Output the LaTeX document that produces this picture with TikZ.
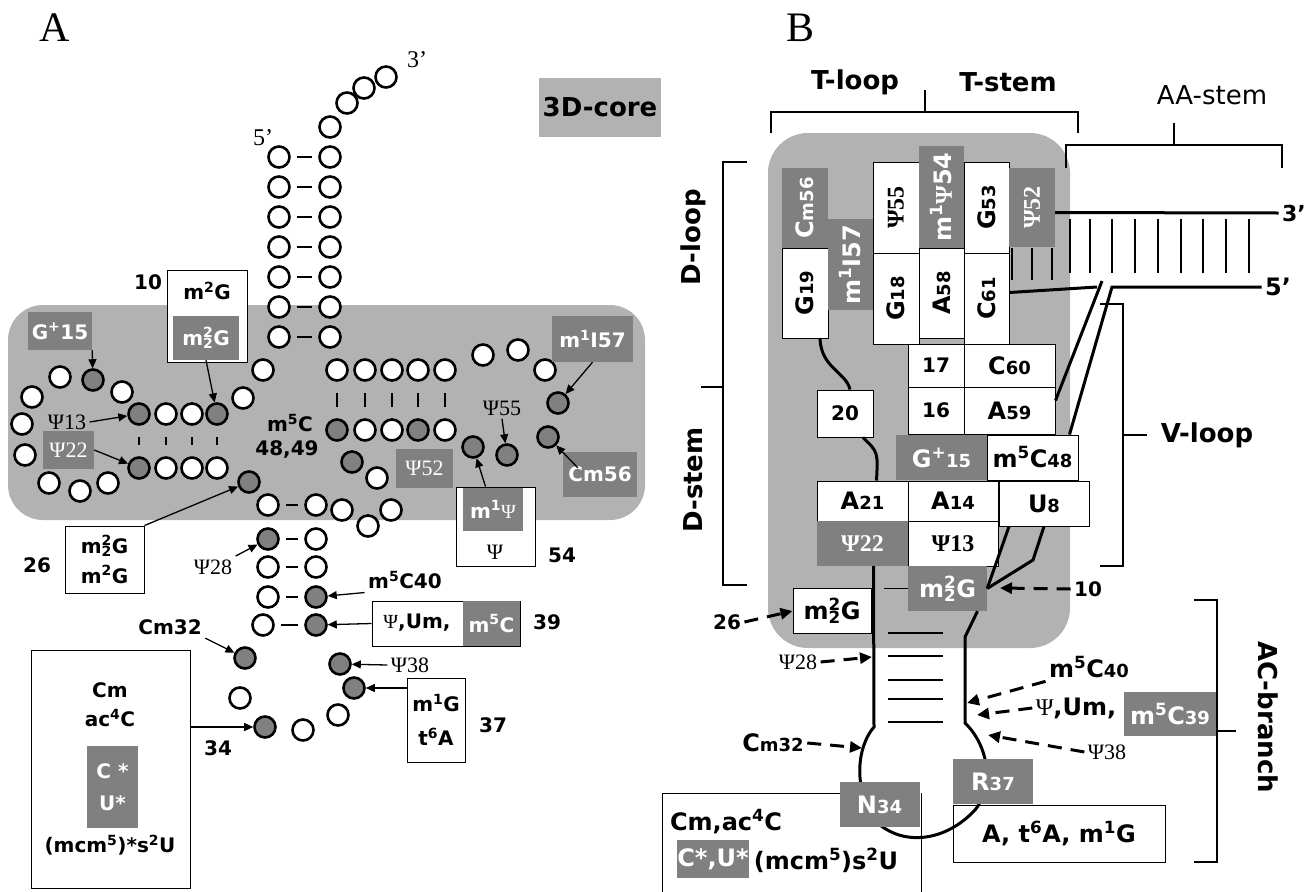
\documentclass[tikz,border=0pt]{standalone}
\usepackage{fontspec}
\setmainfont{DejaVu Sans}
\newfontfamily\psifont{Liberation Serif}
\usetikzlibrary{arrows.meta,positioning}
\definecolor{coregray}{gray}{0.70}
\definecolor{modgray}{gray}{0.50}
\newcommand{\PS}{{\psifont\mdseries Ψ}}
\newcommand{\sm}[1]{{\fontsize{18}{18}\selectfont #1}}
\newcommand{\mmG}{m\rlap{\textsuperscript{2}}\textsubscript{2}G}
\tikzset{
	nt/.style={circle, draw, line width=2.6pt, minimum size=21pt, inner sep=0pt, fill=white}, % one nucleotide
	mnt/.style={nt, fill=modgray}, % modified nucleotide
	bp/.style={line width=2.6pt, shorten <=6pt, shorten >=6pt}, % base pair, horizontal
	vbp/.style={line width=2.4pt, shorten <=11pt, shorten >=11pt}, % base pair, vertical
	arr/.style={-{Triangle[length=9pt,width=8pt]}, line width=1.3pt},
	darr/.style={-{Triangle[length=12pt,width=11pt]}, line width=3pt, dash pattern=on 14pt off 9pt},
	modbox/.style={fill=modgray, text=white, inner sep=0pt},
	plainbox/.style={draw, fill=white, line width=1pt, inner sep=0pt},
	psilab/.style={font=\psifont\mdseries\fontsize{22}{24}\selectfont},
	bpsilab/.style={font=\psifont\bfseries\fontsize{24}{26}\selectfont},
	blab/.style={font=\bfseries\fontsize{24}{26}\selectfont},
	seclab/.style={font=\bfseries\fontsize{26}{28}\selectfont},
	brace/.style={line width=1.2pt},
	strand/.style={line width=3pt},
}
\begin{document}
\begin{tikzpicture}[x=1pt, y=-1pt, font=\bfseries\fontsize{20}{24}\selectfont]
	\useasboundingbox (0,0) rectangle (1310,892);
	
	% ---------------- A ----------------
	\node[font=\psifont\mdseries\fontsize{42}{44}\selectfont] (pA) at (55,28) {A};
	\fill[coregray, rounded corners=35pt] (8,305) rectangle (645,520);
	\node[fill=coregray, minimum width=116pt, minimum height=59pt, font=\bfseries\fontsize{26}{28}\selectfont] (core) at (600,107.5) {3D-core};
	
	% acceptor stem
	\node[nt] (c1) at (279,157) {};
	\node[nt] (c2) at (279,187) {};
	\node[nt] (c3) at (279,217) {};
	\node[nt] (c4) at (279,247) {};
	\node[nt] (c5) at (279,277) {};
	\node[nt] (c6) at (279,307) {};
	\node[nt] (c7) at (279,337) {};
	\node[nt] (c8) at (263,370) {};
	\node[nt] (c9) at (243,398) {};
	% D-arm
	\node[mnt] (c10) at (217,414) {};
	\node[nt] (c11) at (192,414) {};
	\node[nt] (c12) at (166,414) {};
	\node[mnt] (c13) at (139,414) {};
	\node[nt] (c14) at (122,392) {};
	\node[mnt] (c15) at (93,380) {};
	\node[nt] (c16) at (60,377) {};
	\node[nt] (c17) at (32,397) {};
	\node[nt] (c18) at (22,424) {};
	\node[nt] (c19) at (25,455) {};
	\node[nt] (c20) at (49,483) {};
	\node[nt] (c20a) at (80,491) {};
	\node[nt] (c21) at (108,483) {};
	\node[mnt] (c22) at (139,468) {};
	\node[nt] (c23) at (166,468) {};
	\node[nt] (c24) at (192,468) {};
	\node[nt] (c25) at (217,468) {};
	\node[mnt] (c26) at (249,482) {};
	% anticodon arm
	\node[nt] (c27) at (268,505) {};
	\node[mnt] (c28) at (268,539) {};
	\node[nt] (c29) at (268,567) {};
	\node[nt] (c30) at (268,597) {};
	\node[nt] (c31) at (263,625) {};
	\node[mnt] (c32) at (245,658) {};
	\node[nt] (c33) at (240,698) {};
	\node[mnt] (c34) at (265,727) {};
	\node[nt] (c35) at (303,730) {};
	\node[nt] (c36) at (338,715) {};
	\node[mnt] (c37) at (354,688) {};
	\node[mnt] (c38) at (340,664) {};
	\node[mnt] (c39) at (316,625) {};
	\node[mnt] (c40) at (316,597) {};
	\node[nt] (c41) at (316,567) {};
	\node[nt] (c42) at (316,539) {};
	\node[nt] (c43) at (316,505) {};
	% variable loop
	\node[nt] (c44) at (342,510) {};
	\node[nt] (c45) at (368,526) {};
	\node[nt] (c46) at (391,510) {};
	\node[nt] (c47) at (377,478) {};
	\node[mnt] (c48) at (352,462) {};
	% T-arm
	\node[mnt] (c49) at (337,430) {};
	\node[nt] (c50) at (365,430) {};
	\node[nt] (c51) at (392,430) {};
	\node[mnt] (c52) at (418,430) {};
	\node[nt] (c53) at (445,430) {};
	\node[mnt] (c54) at (473,447) {};
	\node[mnt] (c55) at (507,455) {};
	\node[mnt] (c56) at (548,437) {};
	\node[mnt] (c57) at (558,403) {};
	\node[nt] (c58) at (545,370) {};
	\node[nt] (c59) at (518,350) {};
	\node[nt] (c60) at (483,355) {};
	\node[nt] (c61) at (445,370) {};
	\node[nt] (c62) at (418,370) {};
	\node[nt] (c63) at (392,370) {};
	\node[nt] (c64) at (365,370) {};
	\node[nt] (c65) at (337,370) {};
	% acceptor 3' strand
	\node[nt] (c66) at (330,337) {};
	\node[nt] (c67) at (330,307) {};
	\node[nt] (c68) at (330,277) {};
	\node[nt] (c69) at (330,247) {};
	\node[nt] (c70) at (330,217) {};
	\node[nt] (c71) at (330,187) {};
	\node[nt] (c72) at (330,157) {};
	\node[nt] (c73) at (330,127) {};
	\node[nt] (c74) at (347,103) {};
	\node[nt] (c75) at (364,88) {};
	\node[nt] (c76) at (386,77) {};
	\node[font=\psifont\mdseries\fontsize{24}{26}\selectfont] (p5) at (263,138) {5’};
	\node[font=\psifont\mdseries\fontsize{24}{26}\selectfont] (p3) at (417,60) {3’};
	
	\draw (c1) edge[bp] (c72) (c2) edge[bp] (c71) (c3) edge[bp] (c70) (c4) edge[bp] (c69)
		(c5) edge[bp] (c68) (c6) edge[bp] (c67) (c7) edge[bp] (c66)
		(c27) edge[bp] (c43) (c28) edge[bp] (c42) (c29) edge[bp] (c41) (c30) edge[bp] (c40) (c31) edge[bp] (c39);
	\draw (c10) edge[vbp] (c25) (c11) edge[vbp] (c24) (c12) edge[vbp] (c23) (c13) edge[vbp] (c22)
		(c49) edge[vbp] (c65) (c50) edge[vbp] (c64) (c51) edge[vbp] (c63) (c52) edge[vbp] (c62) (c53) edge[vbp] (c61);
	
	% modification labels of A
	\node[modbox, minimum width=64pt, minimum height=38pt] (g15a) at (60,331) {G\textsuperscript{+}15};
	\node[psilab] (psi13a) at (67,422) {Ψ13};
	\node[modbox, psilab, minimum width=51pt, minimum height=38pt] (psi22a) at (68.5,450) {Ψ22};
	\node[plainbox, minimum width=80pt, minimum height=92pt] (b10) at (207,316) {};
	\node (m2ga) at (207,291) {m\textsuperscript{2}G};
	\node[modbox, minimum width=66pt, minimum height=44pt] (m22ga) at (206,338) {\mmG};
	\node (n10) at (148,282) {10};
	\node (m5ca) at (290,423) {m\textsuperscript{5}C};
	\node (n4849) at (287,449) {48,49};
	\node[modbox, psilab, minimum width=57pt, minimum height=39pt] (psi52a) at (424.5,468.5) {Ψ52};
	\node[modbox, minimum width=81pt, minimum height=46pt] (m1i57a) at (592.5,339) {m\textsuperscript{1}I57};
	\node[modbox, minimum width=74pt, minimum height=45pt] (cm56a) at (600,474.5) {Cm56};
	\node[psilab] (psi55a) at (502,408) {Ψ55};
	\node[plainbox, minimum width=79pt, minimum height=79pt] (b54) at (495.5,526.5) {};
	\node[modbox, minimum width=60pt, minimum height=43pt] (m1psia) at (493,509.5) {m\textsuperscript{1}\PS};
	\node[psilab] (psia) at (495,552) {Ψ};
	\node (n54) at (562,555) {54};
	\node[plainbox, minimum width=79pt, minimum height=67pt, align=center, font=\bfseries\fontsize{20}{30}\selectfont] (b26) at (104.5,559.5) {\mmG\\m\textsuperscript{2}G};
	\node (n26) at (37,565) {26};
	\node[psilab] (psi28a) at (213,567) {Ψ28};
	\node (m5c40a) at (405,580) {m\textsuperscript{5}C40};
	\node[plainbox, minimum width=148pt, minimum height=45pt] (b39) at (446,623.5) {};
	\node (umA) at (417,623) {\PS,Um,};
	\node[modbox, minimum width=57pt, minimum height=45pt] (m5c39a) at (491.5,623.5) {m\textsuperscript{5}C};
	\node (n39) at (547,622) {39};
	\node[psilab] (psi38a) at (410,665) {Ψ38};
	\node[plainbox, minimum width=58pt, minimum height=84pt, align=center, font=\bfseries\fontsize{20}{34}\selectfont] (b37) at (436,720) {m\textsuperscript{1}G\\t\textsuperscript{6}A};
	\node (n37) at (493,725) {37};
	\node (cm32a) at (170,627) {Cm32};
	\node[plainbox, minimum width=159pt, minimum height=238pt] (b34) at (110.5,769) {};
	\node (cma) at (110,690) {Cm};
	\node (ac4ca) at (110,718) {ac\textsuperscript{4}C};
	\node[modbox, minimum width=51pt, minimum height=82pt, align=center, font=\bfseries\fontsize{20}{32}\selectfont] (cua) at (112.5,787) {C *\\U*};
	\node (mcma) at (110,845) {(mcm\textsuperscript{5})*s\textsuperscript{2}U};
	\node (n34) at (218,748) {34};
	
	\draw[arr] (g15a.south east) -- (c15);
	\draw[arr] (psi13a.east) -- (c13);
	\draw[arr] (psi22a.east) -- (c22);
	\draw[arr] (m22ga.south) -- (c10);
	\draw[arr] (b26.north east) -- (c26);
	\draw[arr] (psi28a.north east) -- (c28);
	\draw[arr] (cm32a.south east) -- (c32);
	\draw[arr] (b34.east |- c34) -- (c34);
	\draw[arr] (m5c40a.south west) -- (c40);
	\draw[arr] (b39.west) -- (c39);
	\draw[arr] (psi38a.west) -- (c38);
	\draw[arr] (b37.west |- c37) -- (c37);
	\draw[arr] ([xshift=-10pt]b54.north) -- (c54);
	\draw[arr] (psi55a.south) -- (c55);
	\draw[arr] (m1i57a.south) -- (c57);
	\draw[arr] ([shift={(15pt,-16pt)}]cm56a.north west) -- (c56);
	
	% ---------------- B ----------------
	\node[font=\psifont\mdseries\fontsize{42}{44}\selectfont] (pB) at (800,28) {B};
	\fill[coregray, rounded corners=40pt] (768,133) rectangle (1070,648);
	
	% brackets
	\draw[brace] (771,133) -- (771,112) -- (1078,112) -- (1078,133) (925,90) -- (925,112);
	\draw[brace] (1066,168) -- (1066,145) -- (1282,145) -- (1282,168) (1174,123) -- (1174,145);
	\draw[brace] (747,162) -- (723,162) -- (723,585) -- (747,585) (701,387) -- (723,387);
	\draw[brace] (1100,304) -- (1123,304) -- (1123,566) -- (1100,566) (1123,435) -- (1147,435);
	\draw[brace] (1194,600) -- (1217,600) -- (1217,862) -- (1194,862) (1217,731) -- (1236,731);
	\node[seclab] (tloop) at (855,82) {T-loop};
	\node[seclab] (tstem) at (1008,82) {T-stem};
	\node[font=\mdseries\fontsize{26}{28}\selectfont] (aastem) at (1212,95) {AA-stem};
	\node[seclab, rotate=90] (dloop) at (693,237) {D-loop};
	\node[seclab, rotate=90] (dstem) at (693,480) {D-stem};
	\node[seclab] (vloop) at (1207,435) {V-loop};
	\node[seclab, rotate=-90] (acbr) at (1268,717) {AC-branch};
	
	% acceptor stem ticks
	\foreach \x in {1070,1090,1112,1135,1158,1181,1203,1226,1249}
		\draw[line width=1.6pt] (\x,219) -- (\x,273);
	\foreach \x in {1012,1032,1052}
		\draw[line width=1.6pt] (\x,248) -- (\x,280);
	% anticodon stem ticks
	\foreach \y in {633,656,680,699,722}
		\draw[line width=1.6pt] (888,\y) -- (943,\y);
	
	% white boxes under the strand
	\node[plainbox, minimum width=212pt, minimum height=57pt, blab] (bAtA) at (1059,833.5) {A, t\textsuperscript{6}A, m\textsuperscript{1}G};
	\draw[line width=1pt] (662,895) -- (662,793) -- (840,793);
	\draw[line width=1pt] (921,793) -- (921,895);
	\node[blab] (cmac) at (726,822) {Cm,ac\textsuperscript{4}C};
	\node[modbox, blab, minimum width=68pt, minimum height=38pt] (cub) at (713,859) {C*,U*};
	\node[blab] (mcmb) at (826,860) {(mcm\textsuperscript{5})s\textsuperscript{2}U};
	
	% boxes of B
	\node[modbox, blab, rotate=90, minimum width=80pt, minimum height=46pt] (bCm56) at (805,208) {C\sm{m56}};
	\node[plainbox, blab, rotate=90, minimum width=90pt, minimum height=46pt] (bG19) at (805,293) {G\sm{19}};
	\node[modbox, blab, rotate=90, minimum width=91pt, minimum height=45pt] (bI57) at (850.5,264.5) {m\textsuperscript{1}I57};
	\node[plainbox, bpsilab, rotate=90, minimum width=91pt, minimum height=46pt] (bP55) at (896,207.5) {Ψ55};
	\node[plainbox, blab, rotate=90, minimum width=91pt, minimum height=46pt] (bG18) at (896,298.5) {G\sm{18}};
	\node[modbox, blab, rotate=90, minimum width=102pt, minimum height=45pt] (bP54) at (941.5,197) {m\textsuperscript{1}{\psifont Ψ}54};
	\node[plainbox, blab, rotate=90, minimum width=90pt, minimum height=45pt] (bA58) at (941.5,293) {A\sm{58}};
	\node[plainbox, blab, rotate=90, minimum width=91pt, minimum height=45pt] (bG53) at (986.5,207.5) {G\sm{53}};
	\node[plainbox, blab, rotate=90, minimum width=91pt, minimum height=45pt] (bC61) at (986.5,298.5) {C\sm{61}};
	\node[modbox, bpsilab, rotate=90, minimum width=79pt, minimum height=46pt] (bP52) at (1032,207.5) {Ψ52};
	\node[plainbox, minimum width=56pt, minimum height=43pt] (b17) at (936,365.5) {17};
	\node[plainbox, blab, minimum width=91pt, minimum height=43pt] (bC60) at (1009.5,365.5) {C\sm{60}};
	\node[plainbox, minimum width=56pt, minimum height=47pt] (b16) at (936,410.5) {16};
	\node[plainbox, blab, minimum width=91pt, minimum height=47pt] (bA59) at (1009.5,410.5) {A\sm{59}};
	\node[plainbox, minimum width=56pt, minimum height=47pt] (b20) at (845,413.5) {20};
	\node[modbox, blab, minimum width=91pt, minimum height=45pt] (bG15) at (941.5,457.5) {G\textsuperscript{+}\sm{15}};
	\node[plainbox, blab, minimum width=91pt, minimum height=45pt] (bC48) at (1032.5,457.5) {m\textsuperscript{5}C\sm{48}};
	\node[plainbox, blab, minimum width=91pt, minimum height=40pt] (bA21) at (862.5,501) {A\sm{21}};
	\node[plainbox, blab, minimum width=90pt, minimum height=40pt] (bA14) at (953,501) {A\sm{14}};
	\node[plainbox, blab, minimum width=90pt, minimum height=45pt] (bU8) at (1044,503.5) {U\sm{8}};
	\node[modbox, bpsilab, minimum width=91pt, minimum height=45pt] (bP22) at (862.5,543.5) {Ψ22};
	\node[plainbox, bpsilab, minimum width=90pt, minimum height=45pt] (bP13) at (953,543.5) {Ψ13};
	\node[modbox, blab, minimum width=79pt, minimum height=45pt] (bG10) at (947.5,588.5) {\mmG};
	\node[plainbox, blab, minimum width=78pt, minimum height=45pt] (bG26) at (832,611) {\mmG};
	
	% strands
	\draw[strand] ([xshift=15pt]bG19.west) .. controls (821,368) and (846,372) .. ([xshift=5pt]b20.north);
	\draw[strand] ([xshift=18pt]b20.south) .. controls (878,452) .. ([xshift=14pt]bA21.north);
	\draw[strand] ([xshift=-35pt]bU8.south) -- (bG10.east);
	\draw[strand] (bU8.south) -- (1033,560) -- (bG10.east);
	\draw[strand] ([xshift=11pt]bP22.south) -- (874,727)
		.. controls (858,745) and (850,790) .. (880,825)
		.. controls (905,845) and (945,842) .. (975,810)
		.. controls (995,785) and (988,745) .. (965,723)
		-- (965,637) -- ([xshift=30pt]bG10.south);
	\draw[line width=1pt] (884,588.5) -- (bG10.west);
	\node[font=\bfseries\fontsize{22}{24}\selectfont] (l3p) at (1294,213) {3’};
	\node[font=\bfseries\fontsize{24}{26}\selectfont] (l5p) at (1278,287) {5’};
	\draw[strand] ([yshift=-5pt]bP52.south) -- (l3p.west);
	\draw[strand] ([yshift=6pt]bC61.south) -- (1097,287);
	\draw[strand] (1102,281) -- ([yshift=10pt]bA59.east);
	\draw[strand] ([xshift=37pt]bC48.north) -- (1112,287) -- (l5p.west);
	
	\node[modbox, blab, minimum width=80pt, minimum height=45pt] (bN34) at (879.5,804.5) {N\sm{34}};
	\node[modbox, blab, minimum width=80pt, minimum height=45pt] (bR37) at (993,781.5) {R\sm{37}};
	\node[modbox, blab, minimum width=92pt, minimum height=44pt] (bC39) at (1170,714) {m\textsuperscript{5}C\sm{39}};
	
	% dashed pointers
	\coordinate (s10) at (1000,588);
	\coordinate (s28) at (872,657);
	\coordinate (s32) at (862,748);
	\coordinate (s40) at (967,703);
	\coordinate (s39) at (977,715);
	\coordinate (s38) at (988,735);
	\node (l10) at (1088,589) {10};
	\node (l26) at (727,622) {26};
	\node[psilab] (l28) at (798,662) {Ψ28};
	\node[blab] (l32) at (773,743) {C\sm{m32}};
	\node[blab] (l40) at (1089,667) {m\textsuperscript{5}C\sm{40}};
	\node[blab] (l39) at (1076,708) {\PS,Um,};
	\node[psilab] (l38) at (1107,752) {Ψ38};
	\draw[darr] (l10.west) -- (s10);
	\draw[darr] (l26.east) -- (bG26.west);
	\draw[darr] (l28.east) -- (s28);
	\draw[darr] (l32.east) -- (s32);
	\draw[darr] (l40.south west) -- (s40);
	\draw[darr] (l39.west) -- (s39);
	\draw[darr] (l38.west) -- (s38);
\end{tikzpicture}
\end{document}
